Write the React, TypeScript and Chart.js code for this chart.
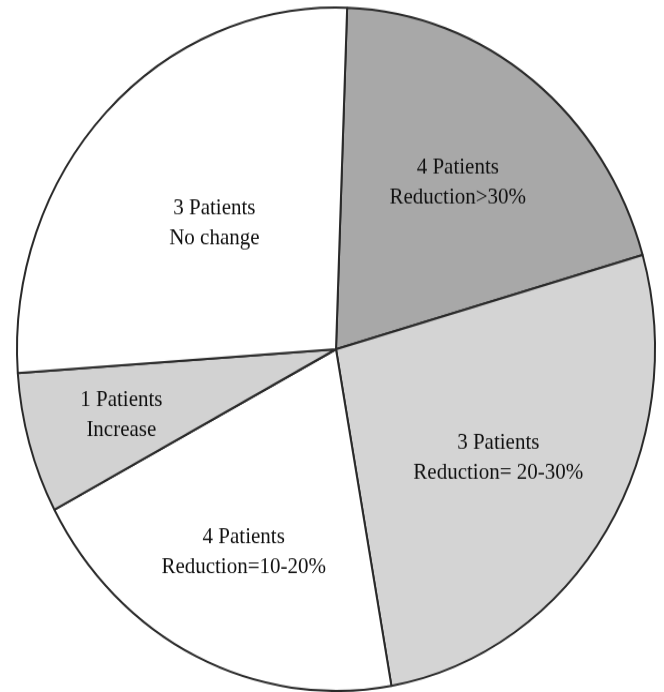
import React, { useEffect, useRef } from "react";
import { Chart, registerables } from "chart.js";

Chart.register(...registerables);

// Slice order clockwise from the top
const categories = ["Reduction>30%", "Reduction= 20-30%", "Reduction=10-20%", "Increase", "No change"];
const patientLabels = ["4 Patients", "3 Patients", "4 Patients", "1 Patients", "3 Patients"];
// Slice sizes as drawn (in 1/15 of the circle)
const sliceValues = [3, 4, 3, 1, 4];
const sliceColors = ["#a8a8a8", "#d4d4d4", "#ffffff", "#d2d2d2", "#ffffff"];
const labelRadius = [0.62, 0.6, 0.66, 0.7, 0.53];

const CANVAS_W = 664;
const CANVAS_H = 646;
const CSS_H = 692;
const FONT = "21px 'Liberation Serif', 'Times New Roman', serif";

const labelPlugin = {
  id: "sliceLabels",
  afterDatasetsDraw(chart: any) {
    const ctx = chart.ctx;
    const meta = chart.getDatasetMeta(0);
    ctx.save();
    ctx.font = FONT;
    ctx.fillStyle = "#111111";
    ctx.textAlign = "center";
    ctx.textBaseline = "middle";
    meta.data.forEach((arc: any, i: number) => {
      const p = arc.getProps(["x", "y", "startAngle", "endAngle", "outerRadius"], true);
      const mid = (p.startAngle + p.endAngle) / 2;
      const r = p.outerRadius * labelRadius[i];
      const x = p.x + Math.cos(mid) * r;
      const y = p.y + Math.sin(mid) * r;
      const gap = 14;
      ctx.fillText(patientLabels[i], x, y - gap);
      ctx.fillText(categories[i], x, y + gap);
    });
    ctx.restore();
  },
};

export default function App() {
  const ref = useRef<HTMLCanvasElement | null>(null);
  useEffect(() => {
    document.body.style.margin = "0";
    const canvas = ref.current!;
    const chart = new Chart(canvas, {
      type: "pie",
      data: {
        labels: categories,
        datasets: [
          {
            data: sliceValues,
            backgroundColor: sliceColors,
            borderColor: "#2a2a2a",
            borderWidth: 2,
          },
        ],
      },
      options: {
        responsive: false,
        animation: false,
        devicePixelRatio: 1,
        rotation: 2,
        layout: { padding: { left: 16, right: 8, top: 6, bottom: 0 } },
        plugins: {
          legend: { display: false },
          tooltip: { enabled: false },
        },
      },
      plugins: [labelPlugin],
    });
    return () => chart.destroy();
  }, []);
  return (
    <div style={{ width: CANVAS_W, height: CSS_H, background: "#fff" }}>
      <canvas
        ref={ref}
        width={CANVAS_W}
        height={CANVAS_H}
        style={{ display: "block", width: `${CANVAS_W}px`, height: `${CSS_H}px` }}
      />
    </div>
  );
}
